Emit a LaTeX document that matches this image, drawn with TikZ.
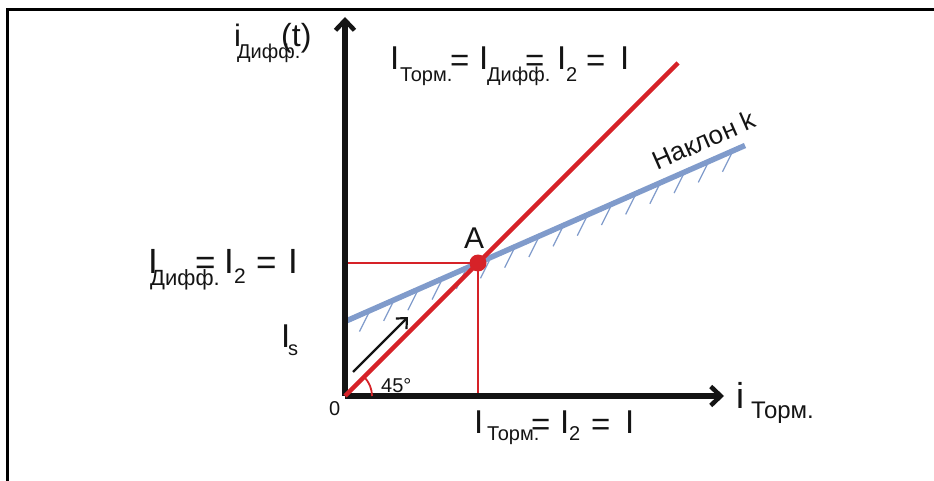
\documentclass[tikz,border=0pt]{standalone}
\usepackage{fontspec}
\setmainfont{Liberation Sans}
\usetikzlibrary{arrows.meta}
\definecolor{rd}{RGB}{214,34,40}
\definecolor{bl}{RGB}{128,155,203}
\definecolor{ink}{RGB}{20,20,20}
\tikzset{
  big/.style={font=\fontsize{33}{33}\selectfont, anchor=base west, inner sep=0pt, text=ink},
  bigL/.style={font=\fontsize{35}{35}\selectfont, anchor=base west, inner sep=0pt, text=ink},
  sub/.style={font=\fontsize{20}{20}\selectfont, anchor=base west, inner sep=0pt, text=ink},
  axis/.style={line width=5.5pt, draw=ink, -{Straight Barb[length=10pt,width=19pt,line width=4.5pt]}},
  redthick/.style={line width=4.5pt, draw=rd},
  redthin/.style={line width=1.8pt, draw=rd},
  blueline/.style={line width=5.5pt, draw=bl},
  hatch/.style={line width=1.2pt, draw=bl},
  frame/.style={line width=3.6pt, draw=black}
}
\begin{document}
\begin{tikzpicture}[x=1pt,y=-1pt]
\useasboundingbox (0,0) rectangle (934,481);
% frame
\coordinate (fb) at (7.3,481);
\coordinate (ftl) at (7.3,9.5);
\coordinate (ftr) at (934,9.5);
\draw[frame] (fb) -- (ftl) -- (ftr);
% key points
\coordinate (O) at (345,396);
\coordinate (A) at (478,263);
\coordinate (Ay) at (345,263);
\coordinate (Ax) at (478,396);
\coordinate (ytip) at (345,17);
\coordinate (xtip) at (724,396);
\coordinate (Rend) at (678,63);
\coordinate (B1) at (345,321.5);
\coordinate (B2) at (745,145.5);
% hatches
\foreach \k in {0,...,15}{
  \pgfmathsetmacro\hx{370+24.2*\k}
  \pgfmathsetmacro\hy{263-0.44*(\hx-478)}
  \draw[hatch] (\hx,\hy) -- ++(-10.5,21);
}
% blue line
\draw[blueline] (B1) -- (B2);
% red thin guides
\draw[redthin] (Ay) -- (A) -- (Ax);
% axes
\draw[axis] (O) -- (ytip);
\draw[axis] (O) -- (xtip);
% 45 degree arc
\draw[redthin] (372,396) arc[start angle=0, end angle=-45, radius=27];
% red main line
\draw[redthick] (O) -- (Rend);
% point A
\fill[rd] (A) circle (8.5);
% small arrow
\coordinate (sa1) at (353,372);
\coordinate (sa2) at (408,317);
\draw[line width=2.2pt, draw=ink, -{Straight Barb[length=8pt,width=15pt,line width=2.2pt]}] (sa1) -- (sa2);
% labels
\node[font=\fontsize{30}{30}\selectfont, anchor=base west, inner sep=0pt, text=ink] (lA) at (464,248) {A};
\node[font=\fontsize{20}{20}\selectfont, anchor=base west, inner sep=0pt, text=ink] (l0) at (329,415) {0};
\node[font=\fontsize{20}{20}\selectfont, anchor=base west, inner sep=0pt, text=ink] (l45) at (381,392) {45°};
\node[font=\fontsize{26}{26}\selectfont, inner sep=0pt, text=ink, rotate=23.7] (lk) at (704,140) {Наклон k};
% top-left axis label
\node[font=\fontsize{31}{31}\selectfont, anchor=base west, inner sep=0pt, text=ink] (yi) at (234,47) {i};
\node[sub] (yisub) at (237,59) {Дифф.};
\node[font=\fontsize{32}{32}\selectfont, anchor=base west, inner sep=0pt, text=ink] (yt) at (281,47) {(t)};
% right axis label
\node[font=\fontsize{36}{36}\selectfont, anchor=base west, inner sep=0pt, text=ink] (xi) at (736,408) {i};
\node[font=\fontsize{24}{24}\selectfont, anchor=base west, inner sep=0pt, text=ink] (xisub) at (751,418) {Торм.};
% top equation
\node[big] (t1) at (390,70) {I};
\node[sub] (t1s) at (400,82) {Торм.};
\node[big] (t2) at (450,72) {=};
\node[big] (t3) at (479,70) {I};
\node[sub] (t3s) at (487,82) {Дифф.};
\node[big] (t4) at (525,72) {=};
\node[big] (t5) at (557,70) {I};
\node[sub] (t5s) at (566,82) {2};
\node[big] (t6) at (586,72) {=};
\node[big] (t7) at (620,70) {I};
% left equation
\node[bigL] (l1) at (148,273) {I};
\node[font=\fontsize{22}{22}\selectfont, anchor=base west, inner sep=0pt, text=ink] (l1s) at (150,285) {Дифф.};
\node[bigL] (l2) at (195,274) {=};
\node[bigL] (l3) at (224,273) {I};
\node[font=\fontsize{21}{21}\selectfont, anchor=base west, inner sep=0pt, text=ink] (l3s) at (234,283) {2};
\node[bigL] (l4) at (256,274) {=};
\node[bigL] (l5) at (288,273) {I};
% Is
\node[big] (is) at (281,347) {I};
\node[sub] (iss) at (288,355) {s};
% bottom equation
\node[big] (b1) at (474,433) {I};
\node[sub] (b1s) at (487,440) {Торм.};
\node[big] (b2) at (531,435) {=};
\node[big] (b3) at (560,433) {I};
\node[sub] (b3s) at (569,440) {2};
\node[big] (b4) at (591,435) {=};
\node[big] (b5) at (625,433) {I};
\end{tikzpicture}
\end{document}
